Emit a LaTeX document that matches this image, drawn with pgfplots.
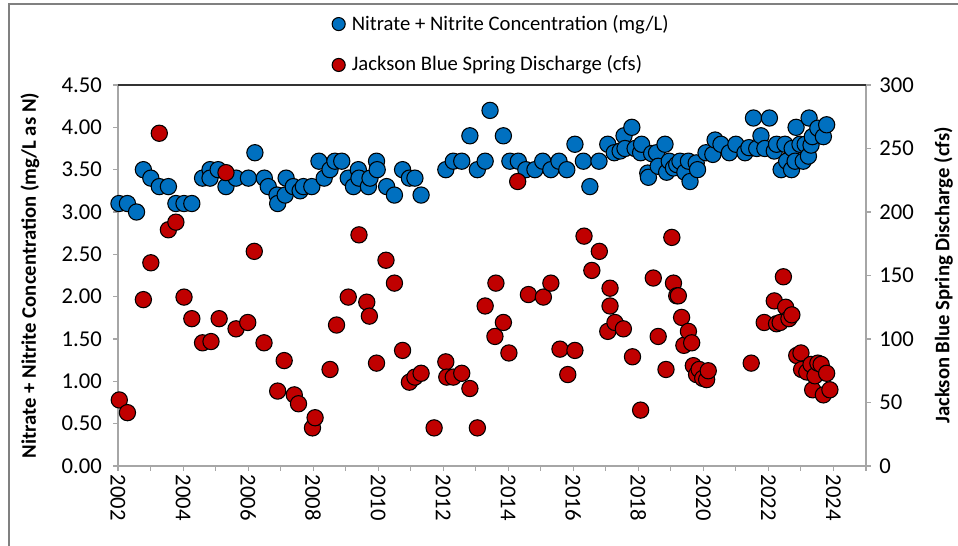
\documentclass[border=0pt]{standalone}
\usepackage{pgfplots}
\pgfplotsset{compat=1.18}
\usepackage{pgfplotstable}
\usepackage{fontspec}
\setmainfont{Carlito}
\definecolor{nblue}{HTML}{0070C0}
\definecolor{dred}{HTML}{C00000}
\definecolor{axgray}{HTML}{A6A6A6}

\pgfplotstableread{
x y
2002.03 3.10
2002.29 3.10
2002.57 3.00
2002.78 3.50
2003.01 3.40
2003.27 3.30
2003.55 3.30
2003.78 3.10
2004.03 3.10
2004.27 3.10
2004.60 3.40
2004.83 3.50
2004.83 3.40
2005.08 3.50
2005.32 3.30
2005.63 3.40
2006.01 3.40
2006.21 3.70
2006.50 3.40
2006.62 3.30
2006.89 3.20
2006.91 3.10
2007.14 3.20
2007.17 3.40
2007.39 3.30
2007.60 3.25
2007.70 3.30
2007.96 3.30
2008.18 3.60
2008.34 3.40
2008.52 3.50
2008.67 3.60
2008.88 3.60
2009.08 3.40
2009.24 3.30
2009.39 3.50
2009.41 3.40
2009.70 3.30
2009.75 3.40
2009.95 3.60
2009.97 3.50
2010.26 3.30
2010.50 3.20
2010.75 3.50
2010.96 3.40
2011.13 3.40
2011.32 3.20
2012.08 3.50
2012.31 3.60
2012.57 3.60
2012.82 3.90
2013.05 3.50
2013.29 3.60
2013.44 4.20
2013.85 3.90
2014.05 3.60
2014.31 3.60
2014.54 3.50
2014.82 3.50
2015.06 3.60
2015.31 3.50
2015.56 3.60
2015.80 3.50
2016.05 3.80
2016.31 3.60
2016.51 3.30
2016.79 3.60
2017.06 3.80
2017.26 3.70
2017.44 3.72
2017.56 3.90
2017.59 3.75
2017.80 4.00
2017.90 3.75
2018.07 3.70
2018.10 3.80
2018.29 3.46
2018.31 3.41
2018.41 3.69
2018.56 3.70
2018.61 3.54
2018.82 3.80
2018.87 3.47
2018.95 3.60
2019.08 3.52
2019.18 3.56
2019.28 3.60
2019.43 3.47
2019.54 3.60
2019.59 3.36
2019.78 3.58
2019.82 3.50
2020.08 3.70
2020.29 3.68
2020.36 3.85
2020.54 3.80
2020.80 3.70
2021.00 3.80
2021.28 3.70
2021.40 3.76
2021.54 4.11
2021.64 3.75
2021.77 3.90
2021.89 3.75
2022.03 4.11
2022.18 3.72
2022.25 3.80
2022.39 3.50
2022.51 3.80
2022.56 3.60
2022.71 3.50
2022.73 3.75
2022.82 3.60
2022.85 4.00
2022.97 3.80
2023.07 3.60
2023.13 3.80
2023.23 3.66
2023.25 4.11
2023.31 3.79
2023.35 3.89
2023.52 3.99
2023.69 3.89
2023.79 4.03
}\nitrate

\pgfplotstableread{
x y
2002.04 52
2002.29 42
2002.78 131
2003.01 160
2003.27 262
2003.55 186
2003.78 192
2004.03 133
2004.27 116
2004.60 97
2004.86 98
2005.11 116
2005.32 231
2005.63 108
2005.99 113
2006.19 169
2006.49 97
2006.91 59
2007.11 83
2007.42 56
2007.55 49
2007.98 30
2008.06 38
2008.52 76
2008.72 111
2009.08 133
2009.41 182
2009.65 129
2009.73 118
2009.95 81
2010.24 162
2010.50 144
2010.75 91
2010.96 66
2011.13 70
2011.32 73
2011.72 30
2012.08 82
2012.11 70
2012.31 70
2012.57 73
2012.82 61
2013.05 30
2013.29 126
2013.59 102
2013.62 144
2013.85 113
2014.02 89
2014.29 224
2014.62 135
2015.08 133
2015.31 144
2015.59 92
2015.83 72
2016.05 91
2016.33 181
2016.57 154
2016.80 169
2017.06 106
2017.13 140
2017.13 126
2017.28 113
2017.54 108
2017.82 86
2018.07 44
2018.46 148
2018.61 102
2018.85 76
2019.03 180
2019.08 144
2019.18 134
2019.23 134
2019.33 117
2019.40 95
2019.54 106
2019.64 97
2019.69 79
2019.79 72
2019.87 76
2019.98 69
2020.10 68
2020.15 75
2021.47 81
2021.87 113
2022.18 130
2022.25 112
2022.36 113
2022.46 149
2022.53 125
2022.63 116
2022.72 119
2022.87 87
2023.00 89
2023.02 76
2023.18 74
2023.31 80
2023.36 60
2023.43 71
2023.52 81
2023.62 80
2023.69 56
2023.79 73
2023.89 60
}\discharge

\begin{document}
\fontsize{15.5pt}{18pt}\selectfont
\begin{tikzpicture}
\pgfplotsset{
  common/.style={
    scale only axis, width=561pt, height=285.75pt,
    at={(0,0)}, anchor=south west,
    xmin=2002, xmax=2025,
    tick align=outside,
    major tick length=3.75pt, minor tick length=3.75pt,
    axis line style={-, draw=axgray, line width=0.8pt},
    every tick/.style={draw=axgray, line width=0.8pt},
    minor tick style={draw=axgray, line width=0.8pt},
    tick label style={font=\fontsize{17pt}{20pt}\selectfont},
    label style={font=\fontsize{15.5pt}{18pt}\selectfont\bfseries},
    /pgf/number format/assume math mode=true,
    clip=false,
  },
}
\begin{axis}[common, name=ax1,
  axis y line*=left, axis x line*=bottom,
  ymin=0, ymax=4.5,
  ytick={0,0.5,1,1.5,2,2.5,3,3.5,4,4.5},
  yticklabel style={xshift=-3pt, /pgf/number format/.cd, fixed, fixed zerofill, precision=2},
  xtick={2002,2004,...,2024},
  minor xtick={2003,2005,...,2025},
  xticklabel style={rotate=-90, anchor=west, xshift=-2.5pt, /pgf/number format/.cd, 1000 sep={}},
  ylabel={Nitrate + Nitrite Concentration (mg/L as N)},
  ylabel style={at={(axis description cs:-0.1176,0.5)}, anchor=center},
]
\addplot[only marks, mark=*, mark size=6.1pt, mark options={fill=nblue, draw=black, line width=0.8pt}] table[x=x, y=y] {\nitrate};
\end{axis}
\begin{axis}[common, name=ax2,
  axis y line*=right, axis x line=none,
  ymin=0, ymax=300,
  ytick={0,50,...,300},
  yticklabel style={xshift=1pt},
  xtick=\empty,
  ylabel={Jackson Blue Spring Discharge (cfs)},
  ylabel style={at={(axis description cs:1.1035,0.5)}, anchor=center},
  legend style={at={(axis description cs:0.513,1)}, anchor=south, yshift=4pt,
    draw=none, fill=none, row sep=13pt, legend cell align=left,
    font=\fontsize{15.5pt}{18pt}\selectfont},
]
\addlegendimage{only marks, mark=*, mark size=4.9pt, mark options={fill=nblue, draw=black, line width=0.8pt}}
\addlegendentry{\hspace{3pt}Nitrate + Nitrite Concentration (mg/L)}
\addplot[only marks, mark=*, mark size=6.1pt, mark options={fill=dred, draw=black, line width=0.8pt}, forget plot] table[x=x, y=y] {\discharge};
\addlegendimage{only marks, mark=*, mark size=4.9pt, mark options={fill=dred, draw=black, line width=0.8pt}}
\addlegendentry{\hspace{3pt}Jackson Blue Spring Discharge (cfs)}
\end{axis}
\draw[line width=1.5pt, black!80] (ax1.north west) -- (ax1.north east);
\draw[line width=0.8pt, gray] (-81.75pt,-61pt) -- (-81.75pt,346.5pt) -- (631pt,346.5pt);
\pgfresetboundingbox
\useasboundingbox (-88.5pt,-60pt) rectangle (630pt,349.5pt);
\end{tikzpicture}
\end{document}
